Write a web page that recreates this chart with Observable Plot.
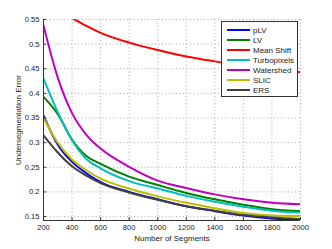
<!DOCTYPE html>
<html>
<head>
<meta charset="utf-8">
<script src="https://cdn.jsdelivr.net/npm/d3@7"></script>
<script src="https://cdn.jsdelivr.net/npm/@observablehq/plot@0.6"></script>
<style>
  html, body { margin: 0; padding: 0; background: #fff; }
  #wrap { position: relative; width: 332px; height: 249px; font-family: "Liberation Sans", Arial, sans-serif; }
  #legend { position: absolute; left: 221px; top: 21px; width: 75px; border: 1px solid #333; background: #fff; padding: 3px 0 1px 0; font-size: 8px; color: #222; }
  #legend .row { display: flex; align-items: center; height: 10px; white-space: nowrap; }
  #legend svg { margin-left: 5px; margin-right: 3px; flex: none; }
</style>
</head>
<body>
<div id="wrap"></div>
<script>
const segments = [200, 300, 400, 500, 600, 800, 1000, 1200, 1400, 1600, 1800, 2000];
const pLV       = [0.355, 0.296, 0.261, 0.238, 0.220, 0.200, 0.185, 0.171, 0.161, 0.152, 0.146, 0.143];
const LV        = [0.393, 0.358, 0.306, 0.273, 0.257, 0.231, 0.214, 0.198, 0.185, 0.174, 0.165, 0.161];
const meanShiftX = [400, 500, 600, 800, 1000, 1200, 1400, 1600, 1800, 2000];
const meanShift = [0.553, 0.537, 0.523, 0.503, 0.488, 0.475, 0.465, 0.456, 0.449, 0.443];
const turbo     = [0.430, 0.362, 0.305, 0.267, 0.248, 0.222, 0.207, 0.192, 0.180, 0.170, 0.162, 0.158];
const watershed = [0.538, 0.432, 0.360, 0.316, 0.288, 0.251, 0.223, 0.208, 0.195, 0.185, 0.178, 0.175];
const slic      = [0.350, 0.300, 0.266, 0.244, 0.227, 0.207, 0.191, 0.178, 0.167, 0.157, 0.152, 0.151];
const ers       = [0.315, 0.280, 0.252, 0.233, 0.218, 0.199, 0.184, 0.171, 0.162, 0.153, 0.148, 0.145];

const seriesNames = ["pLV", "LV", "Mean Shift", "Turbopixels", "Watershed", "SLIC", "ERS"];
const seriesColors = ["#0000ff", "#008000", "#ff0000", "#00bfbf", "#bf00bf", "#bfbf00", "#404040"];
const xTicks = [200, 400, 600, 800, 1000, 1200, 1400, 1600, 1800, 2000];
const yTicks = [0.15, 0.2, 0.25, 0.3, 0.35, 0.4, 0.45, 0.5, 0.55];

const seriesData = [
  [segments, pLV], [segments, LV], [meanShiftX, meanShift], [segments, turbo],
  [segments, watershed], [segments, slic], [segments, ers]
];
const rows = [];
seriesData.forEach(([xs, ys], i) => xs.forEach((x, j) => rows.push({name: seriesNames[i], x, y: ys[j]})));

const yMin = 0.142, yMax = 0.55;

const chart = Plot.plot({
  width: 332, height: 249,
  marginLeft: 43, marginRight: 32, marginTop: 19, marginBottom: 29,
  style: { fontFamily: "Liberation Sans, Arial, sans-serif", fontSize: "7.6px", color: "#222", background: "#fff" },
  x: { domain: [200, 2000] },
  y: { domain: [yMin, yMax] },
  color: { domain: seriesNames, range: seriesColors },
  marks: [
    Plot.gridX(xTicks, { stroke: "#aaa", strokeOpacity: 1, strokeDasharray: "1,2.5" }),
    Plot.gridY(yTicks, { stroke: "#aaa", strokeOpacity: 1, strokeDasharray: "1,2.5" }),
    Plot.line(rows, { x: "x", y: "y", z: "name", stroke: "name", strokeWidth: 2, curve: "monotone-x", clip: true }),
    Plot.ruleX(xTicks, { y1: yMin, y2: yMin + 0.006, stroke: "#333" }),
    Plot.ruleY(yTicks, { x1: 200, x2: 222, stroke: "#333" }),
    Plot.ruleX([200], { stroke: "#333" }),
    Plot.ruleY([yMin], { stroke: "#333" }),
    Plot.axisX(xTicks, { tickSize: 0, tickPadding: 4, tickFormat: d => String(d), label: null }),
    Plot.axisY(yTicks, { tickSize: 0, tickPadding: 4, tickFormat: d => String(d), label: null }),
    Plot.axisX({ ticks: [], tickSize: 0, label: "Number of Segments", labelAnchor: "center", labelArrow: "none", labelOffset: 20, fontSize: 8 }),
    Plot.axisY({ ticks: [], tickSize: 0, label: "Undersegmentation Error", labelAnchor: "center", labelArrow: "none", labelOffset: 28, fontSize: 8 })
  ]
});

const wrap = document.getElementById("wrap");
wrap.appendChild(chart);

const legend = document.createElement("div");
legend.id = "legend";
seriesNames.forEach((n, i) => {
  const row = document.createElement("div");
  row.className = "row";
  row.innerHTML = `<svg width="23" height="4"><line x1="0" y1="2" x2="23" y2="2" stroke="${seriesColors[i]}" stroke-width="2"/></svg><span>${n}</span>`;
  legend.appendChild(row);
});
wrap.appendChild(legend);
</script>
</body>
</html>
